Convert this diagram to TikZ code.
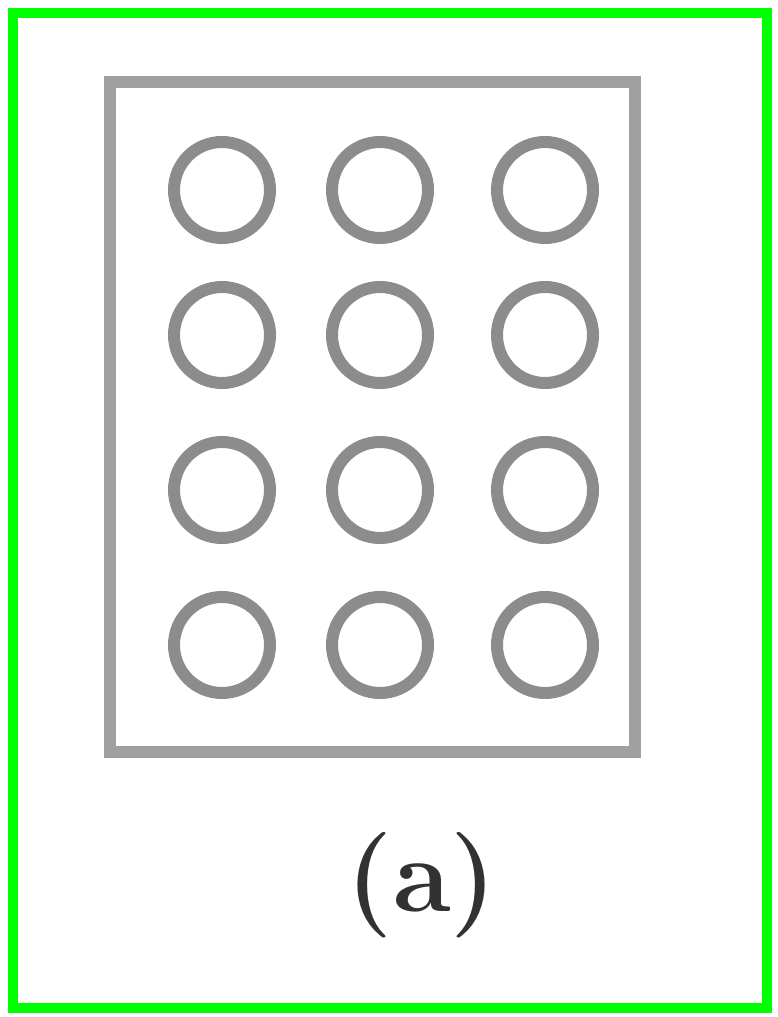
\documentclass[tikz,border=0pt]{standalone}
\usepackage{tikz}
\definecolor{framegreen}{RGB}{0,255,0}
\definecolor{plategray}{RGB}{160,160,160}
\definecolor{holegray}{RGB}{140,140,140}
\definecolor{labelgray}{RGB}{50,50,50}
\tikzset{
    plate/.style={draw=plategray, line width=0.12cm, minimum width=5.25cm, minimum height=6.70cm, inner sep=0pt},
    hole/.style={circle, draw=holegray, line width=0.12cm, minimum size=0.96cm, inner sep=0pt},
}

\begin{document}
\begin{tikzpicture}
    \useasboundingbox (0,0) rectangle (7.77,-10.17);
    \draw[framegreen, line width=0.1cm] (0.13,-0.13) rectangle (7.67,-10.08);
    \node[plate](tray)                  at (3.725,-4.17) {};
    % first row
    \node[hole](h_1a)                   at (2.22,-1.90) {};
    \node[hole](h_1b)                   at (3.80,-1.90) {};
    \node[hole](h_1c)                   at (5.45,-1.90) {};
    % second row
    \node[hole](h_2a)                   at (2.22,-3.35) {};
    \node[hole](h_2b)                   at (3.80,-3.35) {};
    \node[hole](h_2c)                   at (5.45,-3.35) {};
    % third row
    \node[hole](h_3a)                   at (2.22,-4.90) {};
    \node[hole](h_3b)                   at (3.80,-4.90) {};
    \node[hole](h_3c)                   at (5.45,-4.90) {};
    % fourth row
    \node[hole](h_4a)                   at (2.22,-6.45) {};
    \node[hole](h_4b)                   at (3.80,-6.45) {};
    \node[hole](h_4c)                   at (5.45,-6.45) {};
    \node[text=labelgray, font=\fontsize{30}{36}\selectfont\bfseries](caption) at (4.22,-8.85) {(a)};
\end{tikzpicture}
\end{document}
